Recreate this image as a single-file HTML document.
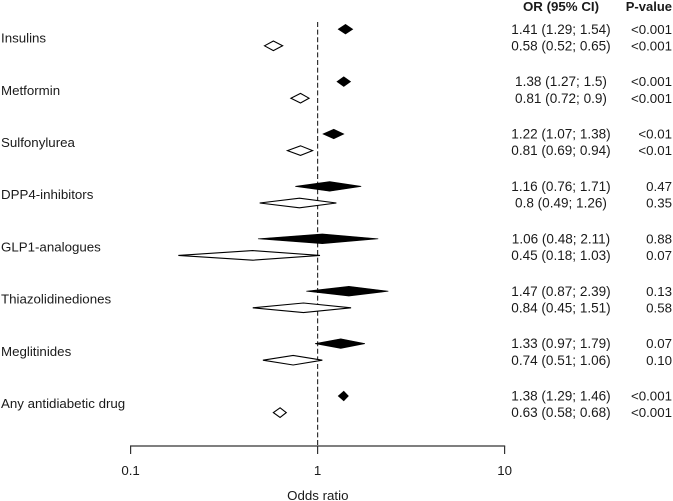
<!DOCTYPE html>
<html lang="en">
<head>
<meta charset="utf-8">
<title>Forest plot of odds ratios</title>
<style>
html,body{margin:0;padding:0;background:#fff;}
svg{display:block;font-family:"Liberation Sans",Arial,sans-serif;font-size:13.3px;fill:#1a1a1a;}
</style>
</head>
<body>
<svg id="chart" width="673" height="501" viewBox="0 0 673 501" xmlns="http://www.w3.org/2000/svg"></svg>
<script>
const categories = ["Insulins","Metformin","Sulfonylurea","DPP4-inhibitors","GLP1-analogues","Thiazolidinediones","Meglitinides","Any antidiabetic drug"];
const filledOR = [1.41,1.38,1.22,1.16,1.06,1.47,1.33,1.38];
const filledLow = [1.29,1.27,1.07,0.76,0.48,0.87,0.97,1.29];
const filledHigh = [1.54,1.5,1.38,1.71,2.11,2.39,1.79,1.46];
const filledP = ["<0.001","<0.001","<0.01","0.47","0.88","0.13","0.07","<0.001"];
const openOR = [0.58,0.81,0.81,0.8,0.45,0.84,0.74,0.63];
const openLow = [0.52,0.72,0.69,0.49,0.18,0.45,0.51,0.58];
const openHigh = [0.65,0.9,0.94,1.26,1.03,1.51,1.06,0.68];
const openP = ["<0.001","<0.001","<0.01","0.35","0.07","0.58","0.10","<0.001"];
const xTicks = [0.1,1,10];

const svg = document.getElementById('chart');
const NS = 'http://www.w3.org/2000/svg';
const xScale = v => 317.6 + 187 * Math.log10(v);
const rowY = (i, second) => 29.2 + 52.4 * i + (second ? 16.6 : 0);
const labelY = i => 42.6 + 52.2 * i;

function add(tag, attrs, text) {
  const el = document.createElementNS(NS, tag);
  for (const k in attrs) el.setAttribute(k, attrs[k]);
  if (text !== undefined) el.textContent = text;
  svg.appendChild(el);
  return el;
}
function slug(s) { return s.toLowerCase().replace(/[^a-z0-9]+/g, '-'); }

const refLine = add('line', {x1:xScale(1), x2:xScale(1), y1:22, y2:446, stroke:'#333', 'stroke-width':1.2, 'stroke-dasharray':'5 2.6'});



function diamond(y, or, lo, hi, filled, name) {
  const pts = [[xScale(lo),y],[xScale(or),y-4.8],[xScale(hi),y],[xScale(or),y+4.8]].map(p => p.join(',')).join(' ');
  const d = add('polygon', {points:pts, fill:filled ? '#000' : '#fff', stroke:'#000', 'stroke-width':filled ? 0.7 : 1.1});
  
  
}

const fmt = (o, l, h) => `${o} (${l}; ${h})`;
const fix = v => String(v);

categories.forEach((c, i) => {
  const s = slug(c);
  const y1 = rowY(i, false), y2 = rowY(i, true);
  const lab = add('text', {x:1, y:labelY(i)}, c);
  
  

  diamond(y1, filledOR[i], filledLow[i], filledHigh[i], true, 'diamond-filled-' + s);
  diamond(y2, openOR[i], openLow[i], openHigh[i], false, 'diamond-open-' + s);

  const t1 = add('text', {x:561, y:y1 + 4.6, 'text-anchor':'middle', 'font-size':'13.55'}, fmt(fix(filledOR[i]), fix(filledLow[i]), fix(filledHigh[i])));
  
  
  const t2 = add('text', {x:561, y:y2 + 4.6, 'text-anchor':'middle', 'font-size':'13.55'}, fmt(fix(openOR[i]), fix(openLow[i]), fix(openHigh[i])));
  
  
  const p1 = add('text', {x:672, y:y1 + 4.6, 'text-anchor':'end'}, filledP[i]);
  
  
  const p2 = add('text', {x:672, y:y2 + 4.6, 'text-anchor':'end'}, openP[i]);
  
  
});

const axis = add('line', {x1:xScale(xTicks[0]) - 0.6, x2:xScale(xTicks[xTicks.length - 1]) + 0.6, y1:446, y2:446, stroke:'#333', 'stroke-width':1.2});



xTicks.forEach(t => {
  const tick = add('line', {x1:xScale(t), x2:xScale(t), y1:446, y2:454, stroke:'#333', 'stroke-width':1.2});
  
  
  const lab = add('text', {x:xScale(t), y:475, 'text-anchor':'middle'}, String(t));
  
  
});

const xTitle = add('text', {x:317.8, y:500, 'text-anchor':'middle'}, 'Odds ratio');



const h1 = add('text', {x:561, y:11, 'text-anchor':'middle', 'font-weight':'bold'}, 'OR (95% CI)');


const h2 = add('text', {x:672, y:11, 'text-anchor':'end', 'font-weight':'bold', 'font-size':'13'}, 'P-value');


</script>
</body>
</html>
